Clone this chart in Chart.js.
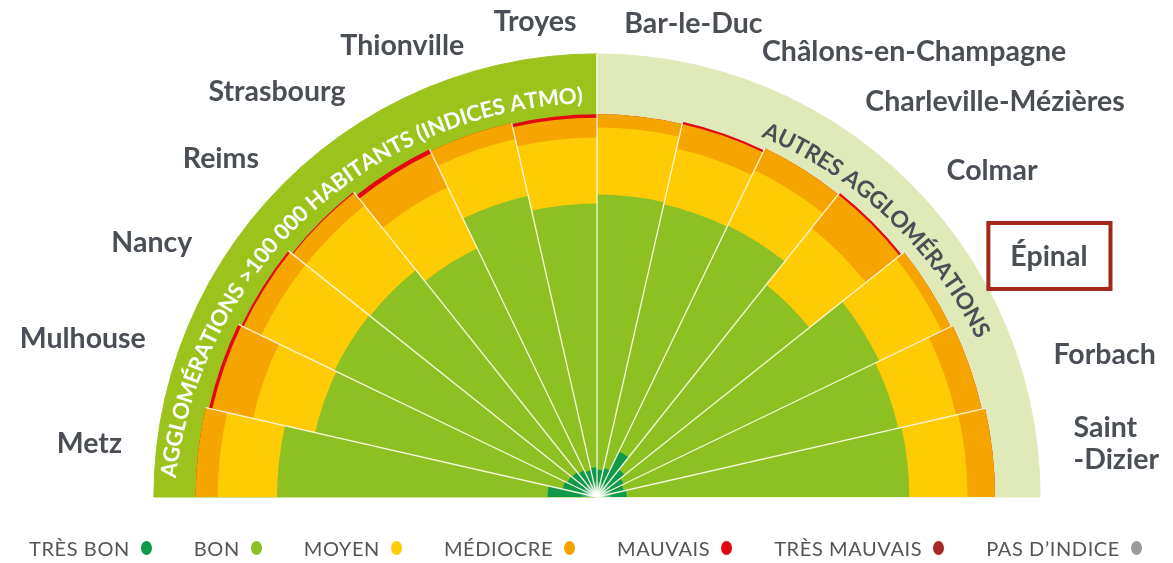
<!DOCTYPE html>
<html lang="fr">
<head>
<meta charset="utf-8">
<script src="https://cdn.jsdelivr.net/npm/chart.js@4.4.1/dist/chart.umd.min.js"></script>
<style>
html,body{margin:0;padding:0;background:#fff;}
#wrap{position:relative;width:1173px;height:563px;overflow:hidden;background:#fff;}
#c{position:absolute;left:0;top:0;}
#legend{position:absolute;left:29px;right:31px;top:536px;display:flex;justify-content:space-between;align-items:center;font-family:Lato,sans-serif;font-size:20px;letter-spacing:0.6px;color:#555;}
.item{display:flex;align-items:center;white-space:nowrap;}
.dot{display:inline-block;width:11px;height:14px;border-radius:50%;margin-left:11px;}
</style>
</head>
<body>
<div id="wrap"><canvas id="c" width="1194" height="994"></canvas><div id="legend"></div></div>
<script>
// ---- data (days per air-quality class) ----
const cities = ['Metz','Mulhouse','Nancy','Reims','Strasbourg','Thionville','Troyes',
  'Bar-le-Duc','Châlons-en-Champagne','Charleville-Mézières','Colmar','Épinal','Forbach',['Saint','-Dizier']];
const groups = ['grande','grande','grande','grande','grande','grande','grande',
  'autre','autre','autre','autre','autre','autre','autre'];
const tresBon  = [45, 32, 30, 29, 27, 25, 27, 25, 27, 46, 32, 27, 25, 27];
const bon      = [246,231,235,235,224,256,240,250,246,228,215,258,256,257];
const moyen    = [54, 58, 74, 75, 62, 53, 60, 61, 52, 56, 66, 63, 54, 53];
const mediocre = [20, 38, 18, 15, 34, 15, 18, 12, 23, 22, 39,  9, 24, 25];
const mauvais  = [0,  3,  2,  1,  4,  0,  3,  0,  2,  0,  2,  0,  0,  0];
const legendLabels = ['TRÈS BON','BON','MOYEN','MÉDIOCRE','MAUVAIS','TRÈS MAUVAIS','PAS D’INDICE'];
const legendColors = ['#10994a','#8dc022','#ffcb05','#f5a400','#e30613','#a3282a','#9b9b9b'];
const bandTitles = ['AGGLOMÉRATIONS >100 000 HABITANTS (INDICES ATMO)','AUTRES AGGLOMÉRATIONS'];
const highlighted = ['Épinal'];
const scaleMax = 452;
const bandValue = 403;

// ---- build stacked (cumulative) layers ----
const layers = [tresBon, bon, moyen, mediocre, mauvais];
const layerColors = legendColors.slice(0, 5);
const cumul = [];
let run = cities.map(() => 0);
layers.forEach(arr => { run = run.map((v, i) => v + arr[i]); cumul.push(run.slice()); });

const sectorAngle = 180 / cities.length;
const datasets = cumul.map((d, k) => ({
  data: d,
  backgroundColor: layerColors[k],
  borderWidth: 0,
  angle: sectorAngle
}));
const bandColors = groups.map(g => g === 'grande' ? '#9cc31c' : '#e0eab9');
datasets.push({
  data: cities.map(() => bandValue),
  backgroundColor: bandColors,
  borderColor: bandColors,
  borderWidth: 1,
  angle: sectorAngle
});

function drawArcText(ctx, text, cx, cy, R, phiStart, phiEnd, color) {
  const arcLen = (phiEnd - phiStart) * Math.PI / 180 * R;
  ctx.font = 'bold 100px Lato';
  let w100 = 0;
  for (const ch of text) w100 += ctx.measureText(ch).width;
  const size = 100 * arcLen / w100;
  ctx.font = 'bold ' + size.toFixed(2) + 'px Lato';
  let theta = Math.PI + phiStart * Math.PI / 180;
  ctx.fillStyle = color;
  ctx.textAlign = 'center';
  ctx.textBaseline = 'middle';
  for (const ch of text) {
    const w = ctx.measureText(ch).width;
    const mid = theta + (w / 2) / R;
    ctx.save();
    ctx.translate(cx + R * Math.cos(mid), cy + R * Math.sin(mid));
    ctx.rotate(mid + Math.PI / 2);
    ctx.fillText(ch, 0, 0);
    ctx.restore();
    theta += w / R;
  }
}

const decor = {
  id: 'decor',
  afterDatasetsDraw(chart) {
    const ctx = chart.ctx;
    const arcs = chart.getDatasetMeta(layers.length - 1).data;
    const band = chart.getDatasetMeta(layers.length).data;
    const cx = arcs[0].x, cy = arcs[0].y;
    ctx.save();
    // separators between agglomerations
    ctx.strokeStyle = 'rgba(255,255,240,0.9)';
    ctx.lineWidth = 1.3;
    for (let k = 1; k < arcs.length; k++) {
      const a = arcs[k].startAngle;
      let len = Math.max(arcs[k - 1].outerRadius, arcs[k].outerRadius);
      if (groups[k] !== groups[k - 1]) len = band[k].outerRadius;
      ctx.beginPath();
      ctx.moveTo(cx, cy);
      ctx.lineTo(cx + len * Math.cos(a), cy + len * Math.sin(a));
      ctx.stroke();
    }
    // central glow
    const g = ctx.createRadialGradient(cx, cy, 0, cx, cy, 16);
    g.addColorStop(0, 'rgba(255,255,255,1)');
    g.addColorStop(1, 'rgba(255,255,255,0)');
    ctx.fillStyle = g;
    ctx.beginPath();
    ctx.arc(cx, cy, 16, Math.PI, 2 * Math.PI);
    ctx.fill();
    // curved band titles
    drawArcText(ctx, bandTitles[0], cx, cy + 30, 431, 6.6, 88.1, '#ffffff');
    drawArcText(ctx, bandTitles[1], cx, cy + 30, 431, 112.8, 153.7, '#4a4f55');
    ctx.restore();
  },
  afterDraw(chart) {
    const ctx = chart.ctx;
    const arcs = chart.getDatasetMeta(0).data;
    const cx = arcs[0].x, cy = arcs[0].y;
    const R = 478, lineH = 32;
    ctx.save();
    ctx.font = 'bold 28.5px Lato';
    ctx.fillStyle = '#4a4f55';
    ctx.textBaseline = 'middle';
    ctx.textAlign = 'left';
    cities.forEach((lab, i) => {
      const arc = arcs[i];
      let a = (arc.startAngle + arc.endAngle) / 2;
      const right = Math.cos(a) > 0;
      if (right) a += 2 * Math.PI / 180;
      const c = Math.abs(Math.cos(a));
      const x0 = cx + R * Math.cos(a), y0 = cy + R * Math.sin(a);
      const lines = Array.isArray(lab) ? lab : [lab];
      const w = Math.max(...lines.map(t => ctx.measureText(t).width));
      const f = right ? Math.max(0, 0.5 - 1.3 * c) : Math.min(1, 0.5 + 0.9 * c);
      const x = x0 - f * w;
      const top = y0 - (lines.length - 1) * lineH;
      lines.forEach((t, j) => ctx.fillText(t, x, top + j * lineH));
      if (highlighted.includes(lines.join(''))) {
        ctx.save();
        ctx.strokeStyle = '#a3281c';
        ctx.lineWidth = 4;
        ctx.strokeRect(x - 22, y0 - 34, w + 45, 66);
        ctx.restore();
      }
    });
    ctx.restore();
  }
};

new Chart(document.getElementById('c'), {
  type: 'polarArea',
  data: { labels: cities.map(c => Array.isArray(c) ? c.join('') : c), datasets },
  options: {
    responsive: false,
    devicePixelRatio: 1,
    animation: false,
    events: [],
    layout: { padding: 0 },
    plugins: { legend: { display: false }, tooltip: { enabled: false } },
    scales: {
      r: {
        display: true,
        min: 0,
        max: scaleMax,
        startAngle: -90,
        grid: { display: false },
        angleLines: { display: false },
        ticks: { display: false },
        pointLabels: { display: false }
      }
    }
  },
  plugins: [decor]
});

// HTML legend
const legendEl = document.getElementById('legend');
legendLabels.forEach((t, i) => {
  const it = document.createElement('div');
  it.className = 'item';
  const s = document.createElement('span');
  s.textContent = t;
  const d = document.createElement('span');
  d.className = 'dot';
  d.style.background = legendColors[i];
  it.appendChild(s); it.appendChild(d);
  legendEl.appendChild(it);
});
</script>
</body>
</html>
